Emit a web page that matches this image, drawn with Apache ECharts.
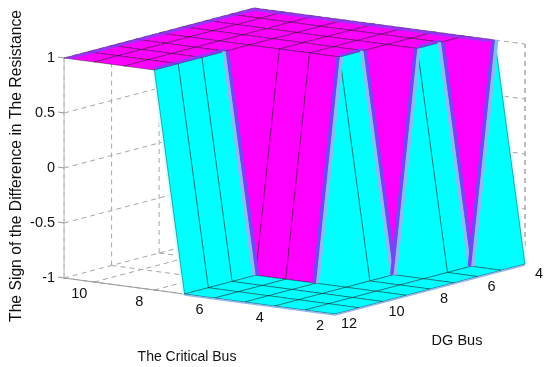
<!DOCTYPE html>
<html>
<head>
<meta charset="utf-8">
<title>The Sign of the Difference in The Resistance</title>
<script src="https://cdn.jsdelivr.net/npm/echarts@6/dist/echarts.min.js"></script>
<style>
html,body{margin:0;padding:0;background:#fff;}
#main{width:550px;height:367px;}
</style>
</head>
<body>
<div id="main"></div>
<script>
// surface values, one row per critical bus, columns are DG bus 4..12
var criticalBus = [2, 3, 4, 5, 6, 7, 8, 9, 10, 11];
var dgBus = [4, 5, 6, 7, 8, 9, 10, 11, 12];
var signByCritical = [
    [-1, -1, -1, -1, -1, -1, -1, -1, -1],
    [ 1, -1, -1, -1, -1, -1, -1, -1, -1],
    [ 1,  1,  1, -1, -1, -1, -1, -1, -1],
    [ 1,  1,  1,  1,  1, -1, -1, -1, -1],
    [ 1,  1,  1,  1,  1, -1, -1, -1, -1],
    [ 1,  1,  1,  1,  1, -1, -1, -1, -1],
    [ 1,  1,  1,  1,  1,  1,  1,  1,  1],
    [ 1,  1,  1,  1,  1,  1,  1,  1,  1],
    [ 1,  1,  1,  1,  1,  1,  1,  1,  1],
    [ 1,  1,  1,  1,  1,  1,  1,  1,  1]
];
var signTicks = [-1, -0.5, 0, 0.5, 1];
var criticalTicks = [2, 4, 6, 8, 10];
var dgTicks = [4, 6, 8, 10, 12];

// walls where the colour flips: [critical, dg] of the high end, [critical, dg] of the low end, side of the magenta
var seams = [
    [8, 9, 7, 9, 1],
    [5, 8, 5, 9, -1],
    [5, 7, 4, 7, 1],
    [4, 6, 4, 7, -1],
    [4, 5, 3, 5, 1],
    [3, 4, 3, 5, -1]
];
// top edges of the cyan walls
var wallTops = [
    [8, 12, 8, 9],
    [5, 8, 5, 7],
    [4, 6, 4, 5]
];

var CYAN = '#00ffff', MAGENTA = '#ff00ff', VIOLET = '#7048f6', PERI = '#8cb8f6';

function signAt(c, d){
    return signByCritical[criticalBus.indexOf(c)][dgBus.indexOf(d)];
}
// view of the box, in the units of the hidden axes
function project(c, d, z){
    return [
        335 - (c - 2) * 30.1 + (12 - d) * 23.75,
        314 - (c - 2) * 4 - (12 - d) * 6.25 - (z + 1) * 110
    ];
}
function pt(api, c, d, z){
    return api.coord(project(c, d, z));
}

var quads = [];
for (var i = criticalBus.length - 2; i >= 0; i--) {
    for (var j = 0; j < dgBus.length - 1; j++) {
        quads.push([criticalBus[i], dgBus[j]]);
    }
}

function dashedLine(a, b){
    return {
        type: 'line',
        shape: {x1: a[0], y1: a[1], x2: b[0], y2: b[1]},
        style: {stroke: '#a6a6a6', lineWidth: 1, lineDash: [5, 4]}
    };
}
function solidLine(a, b, color){
    return {
        type: 'line',
        shape: {x1: a[0], y1: a[1], x2: b[0], y2: b[1]},
        style: {stroke: color || '#b4b4b4', lineWidth: 1.2}
    };
}
function boxRender(params, api){
    var kids = [];
    signTicks.forEach(function(z){
        kids.push(dashedLine(pt(api, 11, 12, z), pt(api, 11, 4, z)));
        kids.push(dashedLine(pt(api, 11, 4, z), pt(api, 2, 4, z)));
    });
    dgTicks.forEach(function(d){
        kids.push(dashedLine(pt(api, 11, d, -1), pt(api, 11, d, 1)));
        kids.push(dashedLine(pt(api, 11, d, -1), pt(api, 2, d, -1)));
    });
    criticalTicks.forEach(function(c){
        kids.push(dashedLine(pt(api, c, 12, -1), pt(api, c, 4, -1)));
        kids.push(dashedLine(pt(api, c, 4, -1), pt(api, c, 4, 1)));
    });
    kids.push(dashedLine(pt(api, 2, 4, -1), pt(api, 2, 4, 1)));
    kids.push(solidLine(pt(api, 11, 12, 1), pt(api, 11, 12, -1), '#c4c4c4'));
    kids.push(solidLine(pt(api, 11, 12, -1), pt(api, 2, 12, -1), '#9a9a9a'));
    kids.push(solidLine(pt(api, 2, 12, -1), pt(api, 2, 4, -1), '#9a9a9a'));
    signTicks.forEach(function(z){
        var p = pt(api, 11, 12, z);
        kids.push(solidLine([p[0] - 6, p[1] - 1], p, '#9a9a9a'));
    });
    // pale fringe round the outer walls
    [[8, 12, 7, 12], [3, 4, 2, 4]].forEach(function(e){
        var a = pt(api, e[0], e[1], 1), b = pt(api, e[2], e[3], -1);
        kids.push({
            type: 'line',
            shape: {x1: a[0], y1: a[1], x2: b[0], y2: b[1]},
            style: {stroke: '#d2ffff', lineWidth: 5}
        });
    });
    return {type: 'group', children: kids};
}

function surfaceRender(params, api){
    var c = quads[params.dataIndex][0], d = quads[params.dataIndex][1];
    var corners = [[c, d], [c + 1, d], [c + 1, d + 1], [c, d + 1]];
    var points = corners.map(function(k){
        return pt(api, k[0], k[1], signAt(k[0], k[1]));
    });
    return {
        type: 'polygon',
        shape: {points: points},
        style: {
            fill: signAt(c, d) > 0 ? MAGENTA : CYAN,
            stroke: 'rgba(0,0,0,0.42)',
            lineWidth: 0.9
        }
    };
}

function strip(a, b, off, width, color){
    return {
        type: 'polygon',
        shape: {points: [
            [a[0] + off, a[1]], [a[0] + off + width, a[1]],
            [b[0] + off + width, b[1]], [b[0] + off, b[1]]
        ]},
        style: {fill: color}
    };
}
function seamRender(params, api){
    var kids = [];
    // violet band along the far edges of the top
    kids.push({
        type: 'polygon',
        shape: {points: [
            pt(api, 11, 12, 1), pt(api, 11, 4, 1), pt(api, 3, 4, 1),
            pt(api, 3, 4.3, 1), pt(api, 10.75, 4.3, 1), pt(api, 10.75, 12, 1)
        ]},
        style: {fill: VIOLET, opacity: 0.7}
    });
    wallTops.forEach(function(e){
        var a = pt(api, e[0], e[1], 1), b = pt(api, e[2], e[3], 1);
        kids.push({
            type: 'polygon',
            shape: {points: [[a[0], a[1]], [b[0], b[1]], [b[0], b[1] - 3], [a[0], a[1] - 3]]},
            style: {fill: VIOLET, opacity: 0.75}
        });
    });
    seams.forEach(function(s){
        var a = pt(api, s[0], s[1], 1), b = pt(api, s[2], s[3], -1);
        if (s[4] > 0) {
            kids.push(strip(a, b, 0, 3.5, VIOLET));
            kids.push(strip(a, b, -3.5, 3.5, PERI));
        } else {
            kids.push(strip(a, b, -3.5, 3.5, VIOLET));
            kids.push(strip(a, b, 0, 3.5, PERI));
        }
    });
    // periwinkle lip on the front edges of the floor
    [[7, 12, 2, 12], [2, 12, 2, 4]].forEach(function(e){
        var a = pt(api, e[0], e[1], -1), b = pt(api, e[2], e[3], -1);
        kids.push({
            type: 'line',
            shape: {x1: a[0], y1: a[1] + 1, x2: b[0], y2: b[1] + 1},
            style: {stroke: PERI, lineWidth: 1.5}
        });
    });
    return {type: 'group', children: kids};
}

function textEl(p, text, align, rotation, size){
    return {
        type: 'text',
        x: p[0],
        y: p[1],
        rotation: rotation || 0,
        style: {
            text: text,
            fill: '#111',
            font: (size || 14.5) + 'px "Liberation Sans", Arial, sans-serif',
            align: align || 'center',
            verticalAlign: 'middle'
        }
    };
}
function labelRender(params, api){
    var kids = [];
    signTicks.forEach(function(z){
        var p = pt(api, 11, 12, z);
        kids.push(textEl([p[0] - 9, p[1]], String(z), 'right'));
    });
    criticalTicks.forEach(function(c){
        var p = pt(api, c, 12, -1);
        kids.push(textEl([p[0] - 15, p[1] + 11.5], String(c)));
    });
    dgTicks.forEach(function(d){
        var p = pt(api, 2, d, -1);
        kids.push(textEl([p[0] + 14, p[1] + 10], String(d)));
    });
    kids.push(textEl(api.coord([187, 357]), 'The Critical Bus', 'center', 0, 14));
    kids.push(textEl(api.coord([457, 341]), 'DG Bus', 'center', 0, 14.5));
    kids.push(textEl(api.coord([17, 166]), 'The Sign of the Difference in The Resistance', 'center', Math.PI / 2, 15.7));
    return {type: 'group', children: kids};
}

var chart = echarts.init(document.getElementById('main'), null, {renderer: 'canvas'});
chart.setOption({
    animation: false,
    backgroundColor: '#ffffff',
    grid: {left: 0, right: 0, top: 0, bottom: 0},
    xAxis: {type: 'value', min: 0, max: 550, show: false},
    yAxis: {type: 'value', min: 0, max: 367, inverse: true, show: false},
    series: [
        {type: 'custom', silent: true, clip: false, coordinateSystem: 'cartesian2d', data: [0], renderItem: boxRender, z: 1},
        {type: 'custom', silent: true, clip: false, coordinateSystem: 'cartesian2d', data: quads, renderItem: surfaceRender, z: 2},
        {type: 'custom', silent: true, clip: false, coordinateSystem: 'cartesian2d', data: [0], renderItem: seamRender, z: 3},
        {type: 'custom', silent: true, clip: false, coordinateSystem: 'cartesian2d', data: [0], renderItem: labelRender, z: 4}
    ]
});
</script>
</body>
</html>
